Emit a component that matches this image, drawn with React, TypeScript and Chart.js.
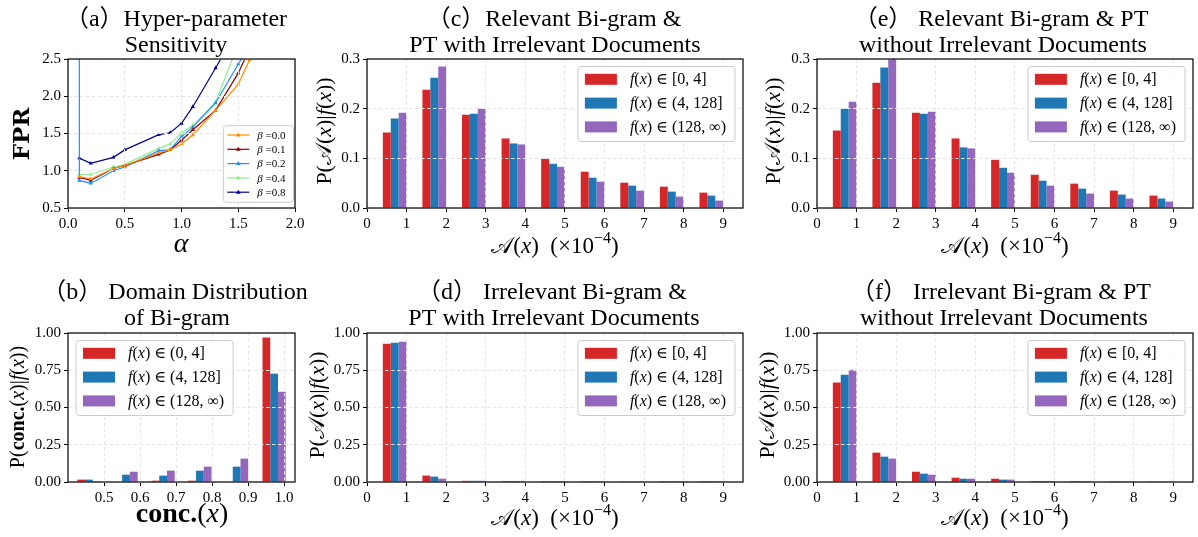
import React, { useEffect, useRef } from 'react';
import { Chart, registerables } from 'chart.js';

Chart.register(...registerables);

const W = 1198;
const H = 537;
const SERIF = '"Liberation Serif", "DejaVu Serif", "Noto Sans CJK SC", serif';
const BOLD_SERIF = '"DejaVu Serif", "Liberation Serif", serif';
const SCRIPT = '"DejaVu Sans", "DejaVu Serif", "Noto Sans", serif';

// ---------------- data ----------------
// (a) hyper-parameter sensitivity
const alphaValues = [0.1, 0.2, 0.4, 0.5, 0.8, 0.9, 1.0, 1.1, 1.3, 1.5, 1.6, 1.7];
const alphaValuesBeta02 = [0.1, 0.1, 0.2, 0.4, 0.5, 0.8, 0.9, 1.0, 1.1, 1.3, 1.5, 1.6, 1.7];
const fprBeta00 = [0.92, 0.89, 1.03, 1.07, 1.24, 1.28, 1.36, 1.48, 1.81, 2.16, 2.49, 2.9];
const fprBeta01 = [0.91, 0.87, 1.03, 1.07, 1.22, 1.28, 1.41, 1.55, 1.81, 2.31, 2.64, 3.0];
const fprBeta02 = [4.0, 0.87, 0.83, 1.0, 1.05, 1.27, 1.28, 1.46, 1.585, 1.91, 2.43, 2.68, 3.0];
const fprBeta04 = [0.95, 0.95, 1.05, 1.085, 1.3, 1.36, 1.51, 1.61, 1.92, 2.7, 3.0, 3.3];
const fprBeta08 = [1.17, 1.1, 1.18, 1.28, 1.485, 1.51, 1.635, 1.86, 2.38, 2.9, 3.3, 3.6];
const betaLabels = ['0.0', '0.1', '0.2', '0.4', '0.8'];
const alphaTicks = [0, 0.5, 1.0, 1.5, 2.0];
const fprTicks = [0.5, 1.0, 1.5, 2.0, 2.5];

// (b) domain distribution of bi-gram
const concTicks = [0.5, 0.6, 0.7, 0.8, 0.9, 1.0];
const concPositions = [0.458, 0.561, 0.664, 0.766, 0.868, 0.972];
const concLow = [0.016, 0.0, 0.009, 0.009, 0.0, 0.969];
const concMid = [0.016, 0.049, 0.043, 0.076, 0.103, 0.727];
const concHigh = [0.001, 0.069, 0.076, 0.103, 0.157, 0.606];

// (c)-(f) score distributions
const scoreBins = [1, 2, 3, 4, 5, 6, 7, 8, 9];
const scoreTicks = [0, 1, 2, 3, 4, 5, 6, 7, 8, 9];
const relWithLow = [0.152, 0.238, 0.188, 0.14, 0.099, 0.073, 0.051, 0.043, 0.031];
const relWithMid = [0.18, 0.262, 0.19, 0.13, 0.089, 0.061, 0.045, 0.033, 0.025];
const relWithHigh = [0.192, 0.285, 0.2, 0.128, 0.083, 0.053, 0.035, 0.023, 0.015];
const relWithoutLow = [0.156, 0.252, 0.192, 0.14, 0.097, 0.067, 0.049, 0.035, 0.025];
const relWithoutMid = [0.2, 0.283, 0.19, 0.122, 0.081, 0.055, 0.039, 0.027, 0.019];
const relWithoutHigh = [0.214, 0.302, 0.194, 0.12, 0.071, 0.045, 0.029, 0.019, 0.013];
const irrWithLow = [0.928, 0.043, 0.008, 0.007, 0.006, 0.006, 0.002, 0.001, 0.001];
const irrWithMid = [0.935, 0.036, 0.008, 0.007, 0.006, 0.006, 0.002, 0.001, 0.001];
const irrWithHigh = [0.942, 0.022, 0.008, 0.007, 0.006, 0.006, 0.005, 0.001, 0.001];
const irrWithoutLow = [0.667, 0.197, 0.069, 0.029, 0.022, 0.007, 0.007, 0.006, 0.002];
const irrWithoutMid = [0.72, 0.17, 0.056, 0.022, 0.016, 0.007, 0.006, 0.005, 0.002];
const irrWithoutHigh = [0.754, 0.157, 0.049, 0.022, 0.016, 0.007, 0.006, 0.005, 0.002];
const probTicksFine = [0, 0.1, 0.2, 0.3];
const probTicksCoarse = [0, 0.25, 0.5, 0.75, 1.0];
const freqRanges = ['[0, 4]', '(4, 128]', '(128, \u221e)'];
const concFreqRanges = ['(0, 4]', '(4, 128]', '(128, \u221e)'];

// ---------------- styles ----------------
const BAR_COLORS = ['#d62728', '#1f77b4', '#9467bd'];
const LINE_COLORS = ['#ff8c00', '#8b0000', '#1e90ff', '#90ee90', '#00008b'];
const GRID = '#e6e6e6';

type Seg = { t: string; i?: boolean; b?: boolean; sup?: boolean; fam?: string };

function segFont(s: Seg, size: number) {
  const sz = s.sup ? Math.round(size * 0.7) : size;
  return `${s.i ? 'italic ' : ''}${s.b ? 'bold ' : ''}${sz}px ${s.fam || SERIF}`;
}
function richWidth(ctx: CanvasRenderingContext2D, segs: Seg[], size: number) {
  let w = 0;
  for (const s of segs) {
    ctx.font = segFont(s, size);
    w += ctx.measureText(s.t).width;
  }
  return w;
}
function drawRich(ctx: CanvasRenderingContext2D, segs: Seg[], x: number, y: number, size: number, align: 'left' | 'center' = 'left') {
  let cx = align === 'center' ? x - richWidth(ctx, segs, size) / 2 : x;
  ctx.textAlign = 'left';
  ctx.textBaseline = 'alphabetic';
  for (const s of segs) {
    ctx.font = segFont(s, size);
    ctx.fillText(s.t, cx, s.sup ? y - size * 0.42 : y);
    cx += ctx.measureText(s.t).width;
  }
}
function drawRichRotated(ctx: CanvasRenderingContext2D, segs: Seg[], cx: number, cy: number, size: number) {
  ctx.save();
  ctx.translate(cx + size * 0.25, cy);
  ctx.rotate(-Math.PI / 2);
  drawRich(ctx, segs, 0, 0, size, 'center');
  ctx.restore();
}

const fxSegs = (range: string): Seg[] => [
  { t: 'f', i: true }, { t: '(' }, { t: 'x', i: true }, { t: ') \u2208 ' + range },
];
const scoreXLabel: Seg[] = [
  { t: '\ud835\udc9c', fam: SCRIPT }, { t: '(' }, { t: 'x', i: true }, { t: ')  (\u00d710' }, { t: '\u22124', sup: true }, { t: ')' },
];
const scoreYLabel: Seg[] = [
  { t: 'P(' }, { t: '\ud835\udc9c', fam: SCRIPT }, { t: '(' }, { t: 'x', i: true }, { t: ')|' }, { t: 'f', i: true }, { t: '(' }, { t: 'x', i: true }, { t: '))' },
];
const concYLabel: Seg[] = [
  { t: 'P(' }, { t: 'conc.', b: true }, { t: '(' }, { t: 'x', i: true }, { t: ')|' }, { t: 'f', i: true }, { t: '(' }, { t: 'x', i: true }, { t: '))' },
];
const concXLabel: Seg[] = [{ t: 'conc.', b: true }, { t: '(' }, { t: 'x', i: true }, { t: ')' }];

type Area = { l: number; t: number; r: number; b: number };

function drawBarLegend(ctx: CanvasRenderingContext2D, a: any, ranges: string[], corner: 'tr' | 'tl') {
  const size = 16;
  const padL = 7, patchW = 32, patchH = 11, gap = 13, padR = 9, rowH = 23.8, h = 75;
  const entries = ranges.map((r) => fxSegs(r));
  const tw = Math.max(...entries.map((e) => richWidth(ctx, e, size)));
  const w = padL + patchW + gap + tw + padR;
  const top = a.top + 7.5;
  const left = corner === 'tr' ? a.right - 8 - w : a.left + 8;
  ctx.save();
  ctx.beginPath();
  (ctx as any).roundRect(left, top, w, h, 3);
  ctx.fillStyle = 'rgba(255,255,255,0.85)';
  ctx.fill();
  ctx.strokeStyle = '#cccccc';
  ctx.lineWidth = 1;
  ctx.stroke();
  entries.forEach((segs, i) => {
    const cy = top + 12.8 + i * rowH;
    ctx.fillStyle = BAR_COLORS[i];
    ctx.fillRect(left + padL, cy - patchH / 2, patchW, patchH);
    ctx.fillStyle = '#000';
    drawRich(ctx, segs, left + padL + patchW + gap, cy + 5, size);
  });
  ctx.restore();
}

function drawLineLegend(ctx: CanvasRenderingContext2D, a: any) {
  const size = 11;
  const padL = 4, lineW = 22, gap = 8, padR = 8, rowH = 14.3, h = 76.6;
  const entries: Seg[][] = betaLabels.map((b) => [{ t: '\u03b2', i: true }, { t: ' =' + b }]);
  const tw = Math.max(...entries.map((e) => richWidth(ctx, e, size)));
  const w = padL + lineW + gap + tw + padR;
  const left = a.right - 1.5 - w;
  const top = a.bottom - 5.7 - h;
  ctx.save();
  ctx.beginPath();
  (ctx as any).roundRect(left, top, w, h, 3);
  ctx.fillStyle = 'rgba(255,255,255,0.85)';
  ctx.fill();
  ctx.strokeStyle = '#cccccc';
  ctx.lineWidth = 1;
  ctx.stroke();
  entries.forEach((segs, i) => {
    const cy = top + 9.3 + i * rowH;
    const x0 = left + padL;
    ctx.strokeStyle = LINE_COLORS[i];
    ctx.lineWidth = 1.2;
    ctx.beginPath();
    ctx.moveTo(x0, cy);
    ctx.lineTo(x0 + lineW, cy);
    ctx.stroke();
    const mx = x0 + lineW / 2, r = 2.5;
    ctx.fillStyle = LINE_COLORS[i];
    ctx.beginPath();
    ctx.moveTo(mx, cy - r);
    ctx.lineTo(mx + r * 0.95, cy + r * 0.6);
    ctx.lineTo(mx - r * 0.95, cy + r * 0.6);
    ctx.closePath();
    ctx.fill();
    ctx.fillStyle = '#000';
    drawRich(ctx, segs, x0 + lineW + gap, cy + 3.8, size);
  });
  ctx.restore();
}

interface Spec {
  key: string;
  type: 'bar' | 'line';
  datasets: any[];
  area: Area;
  xMin: number; xMax: number; xTicks: number[]; xFmt: (v: number) => string;
  yMin: number; yMax: number; yTicks: number[]; yFmt: (v: number) => string;
  title: { text: string; cx: number; y: number }[];
  xLabel: { segs: Seg[]; cx: number; y: number; size: number };
  yLabel: { segs: Seg[]; cx: number; cy: number; size: number };
  legend: (ctx: CanvasRenderingContext2D, a: any) => void;
}

function barSets(bins: number[], offset: number, series: number[][], catPct: number) {
  return series.map((vals, k) => ({
    label: String(k),
    data: bins.map((b, i) => ({ x: b + offset, y: vals[i] })),
    backgroundColor: BAR_COLORS[k],
    borderWidth: 0,
    categoryPercentage: catPct,
    barPercentage: 1.0,
  }));
}
function concSets() {
  return [concLow, concMid, concHigh].map((vals, k) => ({
    label: String(k),
    data: concPositions.map((x, i) => ({ x, y: vals[i] })),
    backgroundColor: BAR_COLORS[k],
    borderWidth: 0,
    categoryPercentage: 0.645,
    barPercentage: 1.0,
  }));
}
function lineSets() {
  const series = [
    [alphaValues, fprBeta00],
    [alphaValues, fprBeta01],
    [alphaValuesBeta02, fprBeta02],
    [alphaValues, fprBeta04],
    [alphaValues, fprBeta08],
  ];
  return series.map(([xs, ys], k) => ({
    label: '\u03b2 =' + betaLabels[k],
    data: xs.map((x, i) => ({ x, y: ys[i] })),
    borderColor: LINE_COLORS[k],
    backgroundColor: LINE_COLORS[k],
    borderWidth: 1.2,
    pointStyle: 'triangle',
    pointRadius: 2.4,
    pointBorderWidth: 0,
    tension: 0,
    fill: false,
  }));
}

const f1 = (v: number) => v.toFixed(1);
const f2 = (v: number) => v.toFixed(2);
const f0 = (v: number) => String(Math.round(v));

const TOP: Area = { l: 68, t: 59, r: 295, b: 208 };
const colC = { l: 367, r: 743 };
const colE = { l: 817, r: 1193 };
const ROW2 = 274;

const SPECS: Spec[] = [
  {
    key: 'a', type: 'line', datasets: lineSets(), area: TOP,
    xMin: 0, xMax: 2, xTicks: alphaTicks, xFmt: f1,
    yMin: 0.5, yMax: 2.5, yTicks: fprTicks, yFmt: f1,
    title: [{ text: '\uff08a\uff09Hyper-parameter', cx: 176, y: 26 }, { text: 'Sensitivity', cx: 176, y: 52 }],
    xLabel: { segs: [{ t: '\u03b1', i: true }], cx: 181, y: 252, size: 28 },
    yLabel: { segs: [{ t: 'FPR', b: true, fam: BOLD_SERIF }], cx: 23, cy: 134, size: 23 },
    legend: (ctx, a) => drawLineLegend(ctx, a),
  },
  {
    key: 'b', type: 'bar', datasets: concSets(), area: { l: 68, t: 59 + ROW2, r: 295, b: 208 + ROW2 },
    xMin: 0.4, xMax: 1.03, xTicks: concTicks, xFmt: f1,
    yMin: 0, yMax: 1, yTicks: probTicksCoarse, yFmt: f2,
    title: [{ text: '\uff08b\uff09 Domain Distribution', cx: 175, y: 299 }, { text: 'of Bi-gram', cx: 177, y: 325 }],
    xLabel: { segs: concXLabel, cx: 182, y: 522, size: 28 },
    yLabel: { segs: concYLabel, cx: 19, cy: 407, size: 20 },
    legend: (ctx, a) => drawBarLegend(ctx, a, concFreqRanges, 'tl'),
  },
  {
    key: 'c', type: 'bar', datasets: barSets(scoreBins, -0.3, [relWithLow, relWithMid, relWithHigh], 0.6),
    area: { l: colC.l, t: 59, r: colC.r, b: 208 },
    xMin: 0, xMax: 9.5, xTicks: scoreTicks, xFmt: f0,
    yMin: 0, yMax: 0.3, yTicks: probTicksFine, yFmt: f1,
    title: [{ text: '\uff08c\uff09Relevant Bi-gram &', cx: 554, y: 26 }, { text: 'PT with Irrelevant Documents', cx: 555, y: 52 }],
    xLabel: { segs: scoreXLabel, cx: 555, y: 253, size: 23 },
    yLabel: { segs: scoreYLabel, cx: 325, cy: 131, size: 22 },
    legend: (ctx, a) => drawBarLegend(ctx, a, freqRanges, 'tr'),
  },
  {
    key: 'd', type: 'bar', datasets: barSets(scoreBins, -0.3, [irrWithLow, irrWithMid, irrWithHigh], 0.6),
    area: { l: colC.l, t: 59 + ROW2, r: colC.r, b: 208 + ROW2 },
    xMin: 0, xMax: 9.5, xTicks: scoreTicks, xFmt: f0,
    yMin: 0, yMax: 1, yTicks: probTicksCoarse, yFmt: f2,
    title: [{ text: '\uff08d\uff09 Irrelevant Bi-gram &', cx: 552, y: 299 }, { text: 'PT with Irrelevant Documents', cx: 554, y: 325 }],
    xLabel: { segs: scoreXLabel, cx: 555, y: 525, size: 23 },
    yLabel: { segs: scoreYLabel, cx: 318, cy: 405, size: 22 },
    legend: (ctx, a) => drawBarLegend(ctx, a, freqRanges, 'tr'),
  },
  {
    key: 'e', type: 'bar', datasets: barSets(scoreBins, -0.3, [relWithoutLow, relWithoutMid, relWithoutHigh], 0.6),
    area: { l: colE.l, t: 59, r: colE.r, b: 208 },
    xMin: 0, xMax: 9.5, xTicks: scoreTicks, xFmt: f0,
    yMin: 0, yMax: 0.3, yTicks: probTicksFine, yFmt: f1,
    title: [{ text: '\uff08e\uff09 Relevant Bi-gram & PT', cx: 1001, y: 26 }, { text: 'without Irrelevant Documents', cx: 1003, y: 52 }],
    xLabel: { segs: scoreXLabel, cx: 1005, y: 253, size: 23 },
    yLabel: { segs: scoreYLabel, cx: 774, cy: 131, size: 22 },
    legend: (ctx, a) => drawBarLegend(ctx, a, freqRanges, 'tr'),
  },
  {
    key: 'f', type: 'bar', datasets: barSets(scoreBins, -0.3, [irrWithoutLow, irrWithoutMid, irrWithoutHigh], 0.6),
    area: { l: colE.l, t: 59 + ROW2, r: colE.r, b: 208 + ROW2 },
    xMin: 0, xMax: 9.5, xTicks: scoreTicks, xFmt: f0,
    yMin: 0, yMax: 1, yTicks: probTicksCoarse, yFmt: f2,
    title: [{ text: '\uff08f\uff09 Irrelevant Bi-gram & PT', cx: 1001, y: 299 }, { text: 'without Irrelevant Documents', cx: 1004, y: 325 }],
    xLabel: { segs: scoreXLabel, cx: 1005, y: 525, size: 23 },
    yLabel: { segs: scoreYLabel, cx: 768, cy: 405, size: 22 },
    legend: (ctx, a) => drawBarLegend(ctx, a, freqRanges, 'tr'),
  },
];

function decor(spec: Spec) {
  return {
    id: 'decor',
    afterDraw(chart: any) {
      const ctx: CanvasRenderingContext2D = chart.ctx;
      const a = chart.chartArea;
      ctx.save();
      ctx.fillStyle = '#000';
      ctx.textAlign = 'center';
      ctx.textBaseline = 'alphabetic';
      ctx.font = `24px ${SERIF}`;
      for (const line of spec.title) ctx.fillText(line.text, line.cx, line.y);
      drawRich(ctx, spec.xLabel.segs, spec.xLabel.cx, spec.xLabel.y, spec.xLabel.size, 'center');
      drawRichRotated(ctx, spec.yLabel.segs, spec.yLabel.cx, spec.yLabel.cy, spec.yLabel.size);
      ctx.strokeStyle = '#000';
      ctx.lineWidth = 1.2;
      ctx.strokeRect(a.left, a.top, a.right - a.left, a.bottom - a.top);
      spec.legend(ctx, a);
      ctx.restore();
    },
  };
}

function buildConfig(spec: Spec): any {
  const tickFont = { family: SERIF, size: 15 };
  const grid = {
    color: GRID,
    lineWidth: 1,
    z: 1,
    offset: false,
    drawTicks: true,
    tickLength: 4,
    tickColor: '#000',
    tickWidth: 1,
    tickBorderDash: [1, 0],
  };
  const border = { display: false, dash: [3.5, 2.5] };
  return {
    type: spec.type,
    data: { datasets: spec.datasets },
    options: {
      responsive: false,
      maintainAspectRatio: false,
      animation: false,
      devicePixelRatio: 1,
      layout: { padding: { left: 0, top: spec.area.t, right: W - spec.area.r, bottom: 0 } },
      plugins: { legend: { display: false }, tooltip: { enabled: false }, title: { display: false } },
      events: [],
      scales: {
        x: {
          type: 'linear',
          min: spec.xMin,
          max: spec.xMax,
          offset: false,
          afterBuildTicks: (s: any) => { s.ticks = spec.xTicks.map((v) => ({ value: v })); },
          afterFit: (s: any) => { s.height = H - spec.area.b; },
          ticks: { font: tickFont, color: '#000', padding: 3, autoSkip: false, maxRotation: 0, callback: (v: any) => spec.xFmt(Number(v)) },
          grid,
          border,
        },
        y: {
          type: 'linear',
          min: spec.yMin,
          max: spec.yMax,
          afterBuildTicks: (s: any) => { s.ticks = spec.yTicks.map((v) => ({ value: v })); },
          afterFit: (s: any) => { s.width = spec.area.l; },
          ticks: { font: tickFont, color: '#000', padding: 3, autoSkip: false, callback: (v: any) => spec.yFmt(Number(v)) },
          grid,
          border,
        },
      },
    },
    plugins: [decor(spec)],
  };
}

function Panel({ spec }: { spec: Spec }) {
  const ref = useRef<HTMLCanvasElement>(null);
  useEffect(() => {
    const chart = new Chart(ref.current as HTMLCanvasElement, buildConfig(spec));
    return () => chart.destroy();
  }, [spec]);
  return (
    <canvas
      ref={ref}
      width={W}
      height={H}
      style={{ position: 'absolute', left: 0, top: 0, width: W, height: H }}
    />
  );
}

export default function App() {
  return (
    <div style={{ position: 'absolute', left: 0, top: 0, width: W, height: H, background: '#fff', overflow: 'hidden' }}>
      {SPECS.map((s) => (
        <Panel key={s.key} spec={s} />
      ))}
    </div>
  );
}
